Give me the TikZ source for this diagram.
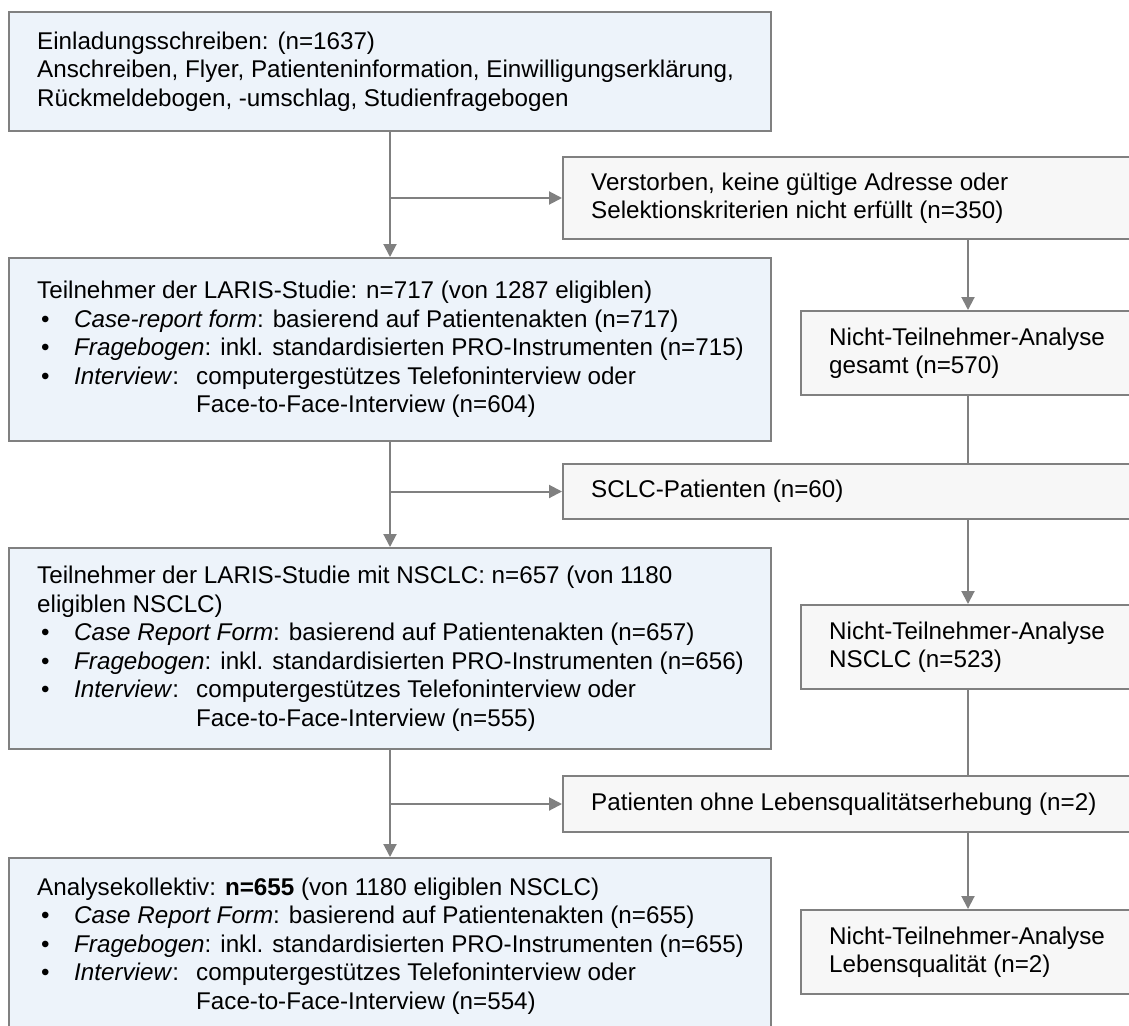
\documentclass[tikz,border=0pt]{standalone}
\usepackage{fontspec}
\setmainfont{Liberation Sans}
\usetikzlibrary{arrows.meta}
\definecolor{bluefill}{HTML}{EDF3FA}
\definecolor{greyfill}{HTML}{F7F7F7}
\definecolor{edgegrey}{HTML}{808080}
\newcommand\bul{\makebox[37pt][l]{\hspace{4pt}•}}
\newcommand\ivw{\makebox[122pt][l]{\textit{Interview}:}}
\newcommand\ind{\hspace*{159pt}}
\begin{document}
\begin{tikzpicture}[x=1pt,y=-1pt,
  font=\fontsize{24.2}{28.5}\selectfont,
  boxbase/.style={draw=edgegrey, line width=2pt, inner sep=0pt},
  mainbox/.style={boxbase, fill=bluefill, minimum width=762pt, anchor=center},
  sidebox/.style={boxbase, fill=greyfill, minimum width=600pt, anchor=west},
  rightbox/.style={boxbase, fill=greyfill, minimum width=360pt, anchor=west},
  txt/.style={inner sep=0pt, align=left, anchor=west},
  conn/.style={draw=edgegrey, line width=2pt},
  arr/.style={conn, -{Triangle[length=13pt,width=13pt]}}]
\useasboundingbox (0,0) rectangle (1129,1025);
\clip (0,0) rectangle (1129,1025);
\fill[white] (0,0) rectangle (1129,1025);
\coordinate (col) at (968,0);

% main column boxes
\node[mainbox, minimum height=119pt] (A) at (390,71.5) {};
\node[txt] (At) at ([xshift=29pt]A.west) {Einladungsschreiben: (n=1637)\\Anschreiben, Flyer, Patienteninformation, Einwilligungserklärung,\\Rückmeldebogen, -umschlag, Studienfragebogen};

\node[mainbox, minimum height=183pt] (B) at (390,349.5) {};
\node[txt] (Bt) at ([xshift=29pt]B.west) {Teilnehmer der LARIS-Studie: n=717 (von 1287 eligiblen)\\
\bul\textit{Case-report form}: basierend auf Patientenakten (n=717)\\
\bul\textit{Fragebogen}: inkl. standardisierten PRO-Instrumenten (n=715)\\
\bul\ivw computergestützes Telefoninterview oder\\
\ind Face-to-Face-Interview (n=604)};

\node[mainbox, minimum height=201pt] (C) at (390,648.5) {};
\node[txt] (Ct) at ([xshift=29pt]C.west) {Teilnehmer der LARIS-Studie mit NSCLC: n=657 (von 1180\\
eligiblen NSCLC)\\
\bul\textit{Case Report Form}: basierend auf Patientenakten (n=657)\\
\bul\textit{Fragebogen}: inkl. standardisierten PRO-Instrumenten (n=656)\\
\bul\ivw computergestützes Telefoninterview oder\\
\ind Face-to-Face-Interview (n=555)};

\node[mainbox, minimum height=176pt] (D) at (390,946) {};
\node[txt] (Dt) at ([xshift=29pt]D.west) {Analysekollektiv: \textbf{n=655} (von 1180 eligiblen NSCLC)\\
\bul\textit{Case Report Form}: basierend auf Patientenakten (n=655)\\
\bul\textit{Fragebogen}: inkl. standardisierten PRO-Instrumenten (n=655)\\
\bul\ivw computergestützes Telefoninterview oder\\
\ind Face-to-Face-Interview (n=554)};

% side boxes
\node[sidebox, minimum height=82pt] (V) at (562,198) {};
\node[txt] (Vt) at ([xshift=29pt]V.west) {Verstorben, keine gültige Adresse oder\\Selektionskriterien nicht erfüllt (n=350)};

\node[sidebox, minimum height=55pt] (S) at (562,491.5) {};
\node[txt] (St) at ([xshift=29pt]S.west) {SCLC-Patienten (n=60)};

\node[sidebox, minimum height=56pt] (P) at (562,804) {};
\node[txt] (Pt) at ([xshift=29pt]P.west) {Patienten ohne Lebensqualitätserhebung (n=2)};

% right boxes
\node[rightbox, minimum height=84pt] (N1) at (800,353) {};
\node[txt] (N1t) at ([xshift=29pt]N1.west) {Nicht-Teilnehmer-Analyse\\gesamt (n=570)};

\node[rightbox, minimum height=84pt] (N2) at (800,647) {};
\node[txt] (N2t) at ([xshift=29pt]N2.west) {Nicht-Teilnehmer-Analyse\\NSCLC (n=523)};

\node[rightbox, minimum height=84pt] (N3) at (800,952) {};
\node[txt] (N3t) at ([xshift=29pt]N3.west) {Nicht-Teilnehmer-Analyse\\Lebensqualität (n=2)};

% connectors main column
\draw[arr] (A.south) -- (B.north);
\draw[arr] (A.south |- V.west) -- (V.west);
\draw[arr] (B.south) -- (C.north);
\draw[arr] (B.south |- S.west) -- (S.west);
\draw[arr] (C.south) -- (D.north);
\draw[arr] (C.south |- P.west) -- (P.west);

% connectors right column
\draw[arr] (V.south -| col) -- (N1.north -| col);
\draw[conn] (N1.south -| col) -- (S.north -| col);
\draw[arr] (S.south -| col) -- (N2.north -| col);
\draw[conn] (N2.south -| col) -- (P.north -| col);
\draw[arr] (P.south -| col) -- (N3.north -| col);
\end{tikzpicture}
\end{document}
